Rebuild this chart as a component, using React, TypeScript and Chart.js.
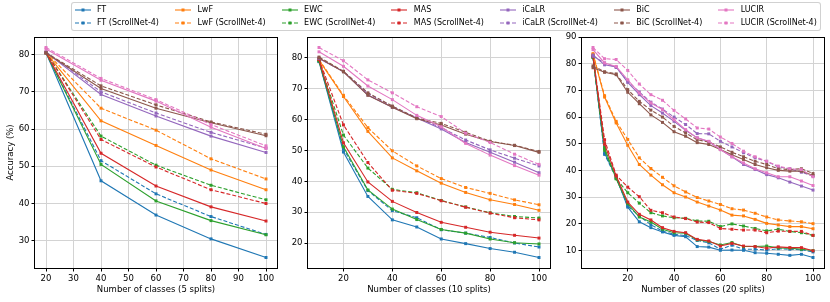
import React, { useEffect, useRef } from 'react';
import { Chart, registerables } from 'chart.js';
Chart.register(...registerables);

const FONT = 'DejaVu Sans';
const METHODS = ['FT', 'LwF', 'EWC', 'MAS', 'iCaLR', 'BiC', 'LUCIR'];
const COLORS = ['#1f77b4', '#ff7f0e', '#2ca02c', '#d62728', '#9467bd', '#8c564b', '#e377c2'];
const SUFFIX = ' (ScrollNet-4)';

// ---- 5 splits ----
const X5 = [20, 40, 60, 80, 100];
const FT5 = [80.5, 46.1, 36.9, 30.5, 25.5];
const FT5s = [80.5, 51.5, 42.6, 36.5, 31.7];
const LwF5 = [80.5, 62.2, 55.6, 49.0, 43.7];
const LwF5s = [80.6, 65.6, 59.7, 52.0, 46.6];
const EWC5 = [80.5, 50.5, 40.7, 35.4, 31.6];
const EWC5s = [80.6, 58.1, 50.3, 44.9, 41.0];
const MAS5 = [80.5, 53.5, 44.7, 39.1, 35.3];
const MAS5s = [80.6, 57.2, 49.8, 43.7, 40.0];
const iCaLR5 = [80.6, 69.3, 63.5, 58.1, 53.7];
const iCaLR5s = [80.7, 70.0, 64.3, 59.1, 54.9];
const BiC5 = [80.4, 70.9, 65.6, 61.7, 58.2];
const BiC5s = [80.5, 71.6, 66.5, 61.9, 58.6];
const LUCIR5 = [81.5, 73.1, 67.5, 60.5, 54.8];
const LUCIR5s = [81.9, 73.6, 67.9, 61.2, 55.5];

// ---- 10 splits ----
const X10 = [10, 20, 30, 40, 50, 60, 70, 80, 90, 100];
const FT10 = [78.8, 49.5, 35.1, 27.5, 25.2, 21.3, 19.8, 18.2, 17.0, 15.3];
const FT10s = [79.0, 50.5, 37.0, 30.5, 28.2, 24.3, 23.2, 21.8, 20.0, 18.7];
const LwF10 = [79.3, 67.5, 56.2, 47.6, 43.4, 39.4, 36.4, 34.0, 32.5, 30.6];
const LwF10s = [79.5, 67.9, 57.4, 49.9, 45.0, 40.9, 38.0, 36.1, 34.0, 32.4];
const EWC10 = [79.0, 51.2, 37.2, 31.0, 27.6, 24.4, 23.2, 21.3, 20.1, 19.7];
const EWC10s = [79.2, 55.0, 44.3, 37.4, 36.3, 33.8, 31.7, 29.8, 28.6, 28.1];
const MAS10 = [79.5, 52.5, 39.8, 33.5, 29.9, 26.7, 25.1, 23.5, 22.5, 21.6];
const MAS10s = [79.6, 58.3, 46.1, 37.1, 36.1, 33.7, 31.6, 29.7, 28.2, 27.5];
const iCaLR10 = [79.8, 75.6, 68.0, 64.0, 60.5, 57.0, 52.6, 49.4, 46.2, 42.8];
const iCaLR10s = [79.9, 75.6, 68.5, 64.3, 60.6, 57.4, 53.4, 50.2, 47.5, 45.0];
const BiC10 = [80.0, 75.5, 67.9, 64.0, 60.3, 58.3, 55.3, 52.9, 51.6, 49.4];
const BiC10s = [80.3, 75.7, 68.7, 64.4, 60.5, 58.8, 55.9, 53.0, 51.7, 49.7];
const LUCIR10 = [82.0, 77.3, 70.9, 66.5, 61.4, 57.7, 52.3, 48.5, 45.1, 42.0];
const LUCIR10s = [83.4, 79.1, 72.9, 68.7, 64.2, 61.0, 55.6, 52.6, 48.8, 45.5];

// ---- 20 splits ----
const X20 = [5, 10, 15, 20, 25, 30, 35, 40, 45, 50, 55, 60, 65, 70, 75, 80, 85, 90, 95, 100];
const FT20 = [82.5, 46.5, 37.5, 26.2, 20.7, 18.5, 16.9, 15.6, 15.1, 11.4, 11.2, 10.0, 10.1, 10.0, 9.1, 8.9, 8.5, 8.1, 8.5, 7.3];
const FT20s = [82.6, 46.0, 37.2, 26.6, 22.9, 19.6, 17.2, 16.0, 15.5, 13.7, 12.8, 10.4, 11.9, 10.4, 10.4, 10.1, 10.6, 10.4, 10.2, 9.4];
const LwF20 = [83.5, 67.5, 57.8, 49.4, 42.2, 38.2, 34.6, 31.6, 30.0, 28.1, 26.6, 25.1, 23.2, 22.9, 21.6, 20.1, 19.5, 18.9, 18.9, 18.1];
const LwF20s = [83.8, 68.0, 58.4, 51.6, 44.7, 40.7, 37.4, 34.2, 31.9, 29.8, 28.5, 27.2, 25.6, 25.1, 23.9, 22.5, 21.4, 21.0, 20.7, 20.0];
const EWC20 = [82.4, 48.4, 36.8, 27.5, 22.5, 20.6, 17.9, 16.6, 16.4, 13.9, 13.3, 12.0, 12.9, 11.4, 11.4, 11.6, 10.9, 10.8, 10.4, 9.9];
const EWC20s = [82.6, 47.5, 37.0, 31.6, 27.7, 24.1, 22.9, 22.2, 22.0, 21.0, 20.9, 18.9, 19.9, 19.1, 18.2, 17.3, 17.9, 17.1, 16.6, 15.6];
const MAS20 = [82.8, 49.8, 37.9, 28.1, 23.5, 21.4, 18.5, 17.1, 16.6, 14.1, 13.5, 11.6, 12.6, 11.6, 11.4, 10.8, 11.3, 11.0, 11.0, 9.8];
const MAS20s = [83.0, 51.5, 38.2, 33.7, 30.1, 25.0, 24.1, 22.5, 21.9, 20.6, 20.4, 18.2, 17.9, 17.6, 17.6, 16.6, 17.2, 17.1, 17.1, 15.6];
const iCaLR20 = [83.3, 79.6, 78.8, 73.0, 68.4, 64.3, 61.5, 58.4, 55.0, 52.2, 50.7, 47.8, 45.1, 42.2, 40.3, 38.4, 37.2, 35.6, 34.1, 32.6];
const iCaLR20s = [82.8, 80.3, 78.6, 73.5, 69.4, 65.6, 63.0, 60.0, 57.2, 53.8, 53.7, 50.9, 48.8, 46.6, 44.7, 43.4, 41.3, 40.6, 39.3, 37.8];
const BiC20 = [78.5, 76.8, 75.9, 69.3, 65.0, 60.8, 58.0, 54.5, 52.8, 50.4, 49.7, 47.8, 45.9, 44.1, 42.2, 41.0, 40.0, 39.7, 39.7, 38.1];
const BiC20s = [79.2, 77.0, 76.2, 70.3, 65.9, 62.6, 60.0, 56.5, 54.0, 51.5, 50.6, 48.8, 46.8, 45.1, 43.4, 42.2, 40.6, 40.3, 40.6, 38.8];
const LUCIR20 = [85.3, 80.3, 79.0, 74.0, 69.0, 65.3, 62.8, 59.0, 55.3, 52.2, 50.9, 47.8, 45.1, 42.8, 40.6, 39.1, 37.6, 37.6, 36.0, 34.3];
const LUCIR20s = [86.1, 81.9, 81.6, 77.5, 72.4, 68.4, 66.3, 62.5, 59.3, 55.9, 55.5, 52.5, 50.1, 47.2, 45.1, 43.4, 41.6, 40.6, 40.3, 37.6];

const PANELS = [
  { xs: X5, solid: [FT5, LwF5, EWC5, MAS5, iCaLR5, BiC5, LUCIR5], dashed: [FT5s, LwF5s, EWC5s, MAS5s, iCaLR5s, BiC5s, LUCIR5s], xTitle: 'Number of classes (5 splits)', yTitle: 'Accuracy (%)', xStep: 10, left: 0 },
  { xs: X10, solid: [FT10, LwF10, EWC10, MAS10, iCaLR10, BiC10, LUCIR10], dashed: [FT10s, LwF10s, EWC10s, MAS10s, iCaLR10s, BiC10s, LUCIR10s], xTitle: 'Number of classes (10 splits)', yTitle: '', xStep: 20, left: 273 },
  { xs: X20, solid: [FT20, LwF20, EWC20, MAS20, iCaLR20, BiC20, LUCIR20], dashed: [FT20s, LwF20s, EWC20s, MAS20s, iCaLR20s, BiC20s, LUCIR20s], xTitle: 'Number of classes (20 splits)', yTitle: '', xStep: 20, left: 547 },
];

const Y_W = 35;
const PLOT_W = 242;
const PLOT_TOP = 37;
const PLOT_H = 231;
const CAN_W = Y_W + PLOT_W + 4;
const CAN_H = 302;
const TICK_FONT = { family: FONT, size: 8.5 };

const framePlugin = {
  id: 'frame',
  afterDatasetsDraw(chart: any) {
    const { ctx, chartArea: a } = chart;
    ctx.save();
    ctx.strokeStyle = '#000';
    ctx.lineWidth = 1;
    ctx.strokeRect(Math.round(a.left) - 0.5, Math.round(a.top) + 0.5, Math.round(a.right - a.left) + 1, Math.round(a.bottom - a.top) - 0);
    ctx.restore();
  },
};

function buildConfig(p: any) {
  const all = [...p.solid, ...p.dashed].flat();
  const ymin = Math.min(...all);
  const ymax = Math.max(...all);
  const yr = ymax - ymin;
  const x0 = p.xs[0];
  const x1 = p.xs[p.xs.length - 1];
  const xr = x1 - x0;
  const datasets: any[] = [];
  METHODS.forEach((m, i) => {
    [p.solid[i], p.dashed[i]].forEach((ys: number[], k: number) => {
      const n = i * 2 + k;
      datasets.push({
        label: k ? m + SUFFIX : m,
        data: p.xs.map((x: number, j: number) => ({ x, y: ys[j] })),
        borderColor: COLORS[i],
        backgroundColor: COLORS[i],
        borderWidth: 1.1,
        borderDash: k ? [4, 2] : [],
        pointStyle: 'rect',
        pointRadius: 2.1,
        pointBorderWidth: 0,
        tension: 0,
        order: 100 - n,
      });
    });
  });
  return {
    type: 'line',
    data: { datasets },
    options: {
      responsive: false,
      animation: false,
      devicePixelRatio: 1,
      layout: { padding: { left: 0, top: PLOT_TOP, right: CAN_W - Y_W - PLOT_W, bottom: 0 } },
      plugins: { legend: { display: false }, tooltip: { enabled: false } },
      scales: {
        x: {
          type: 'linear',
          min: x0 - 0.05 * xr,
          max: x1 + 0.05 * xr,
          ticks: { stepSize: p.xStep, includeBounds: false, color: '#000', font: TICK_FONT, padding: 2, maxRotation: 0, autoSkip: false },
          grid: { color: '#d3d3d3', tickColor: '#000', tickLength: 3.5, lineWidth: 1 },
          border: { display: false },
          title: { display: true, text: p.xTitle, color: '#000', font: TICK_FONT, padding: { top: 0, bottom: 7 } },
          afterFit: (s: any) => { s.height = CAN_H - PLOT_TOP - PLOT_H; },
        },
        y: {
          type: 'linear',
          min: ymin - 0.05 * yr,
          max: ymax + 0.05 * yr,
          ticks: { stepSize: 10, includeBounds: false, color: '#000', font: TICK_FONT, padding: 2, autoSkip: false },
          grid: { color: '#d3d3d3', tickColor: '#000', tickLength: 3.5, lineWidth: 1 },
          border: { display: false },
          title: { display: !!p.yTitle, text: p.yTitle, color: '#000', font: TICK_FONT, padding: { top: 6, bottom: 0 } },
          afterFit: (s: any) => { s.width = Y_W; },
        },
      },
    },
    plugins: [framePlugin],
  };
}

function Panel({ p }: { p: any }) {
  const ref = useRef<HTMLCanvasElement>(null);
  useEffect(() => {
    const chart = new Chart(ref.current as HTMLCanvasElement, buildConfig(p) as any);
    return () => chart.destroy();
  }, [p]);
  return (
    <canvas
      ref={ref}
      width={CAN_W}
      height={CAN_H}
      style={{ position: 'absolute', left: p.left, top: 0, width: CAN_W, height: CAN_H }}
    />
  );
}

function LegendItem({ color, dashed, label }: { color: string; dashed: boolean; label: string }) {
  return (
    <div style={{ display: 'flex', alignItems: 'center', height: 12.5 }}>
      <svg width={16} height={8} style={{ display: 'block' }}>
        <line x1={0} y1={4} x2={16} y2={4} stroke={color} strokeWidth={1.1} strokeDasharray={dashed ? '4 2' : undefined} />
        <rect x={6.5} y={2.5} width={3} height={3} fill={color} />
      </svg>
      <span style={{ marginLeft: 6.4, fontFamily: FONT, fontSize: 8, color: '#000', whiteSpace: 'nowrap', lineHeight: 1 }}>{label}</span>
    </div>
  );
}

export default function App() {
  return (
    <div style={{ position: 'fixed', left: 0, top: 0, width: 830, height: 302, background: '#fff', overflow: 'hidden' }}>
      {PANELS.map((p, i) => <Panel key={i} p={p} />)}
      <div
        style={{
          position: 'absolute', left: 71, top: 2,
          border: '1px solid rgba(204,204,204,0.9)', borderRadius: 3, background: 'rgba(255,255,255,0.8)',
          padding: '1px 3px 1px 2.5px',
          display: 'grid', gridAutoFlow: 'column', gridTemplateRows: 'repeat(2, 12.5px)', columnGap: 16,
        }}
      >
        {METHODS.flatMap((m, i) => [
          <LegendItem key={m} color={COLORS[i]} dashed={false} label={m} />,
          <LegendItem key={m + 's'} color={COLORS[i]} dashed={true} label={m + SUFFIX} />,
        ])}
      </div>
    </div>
  );
}
